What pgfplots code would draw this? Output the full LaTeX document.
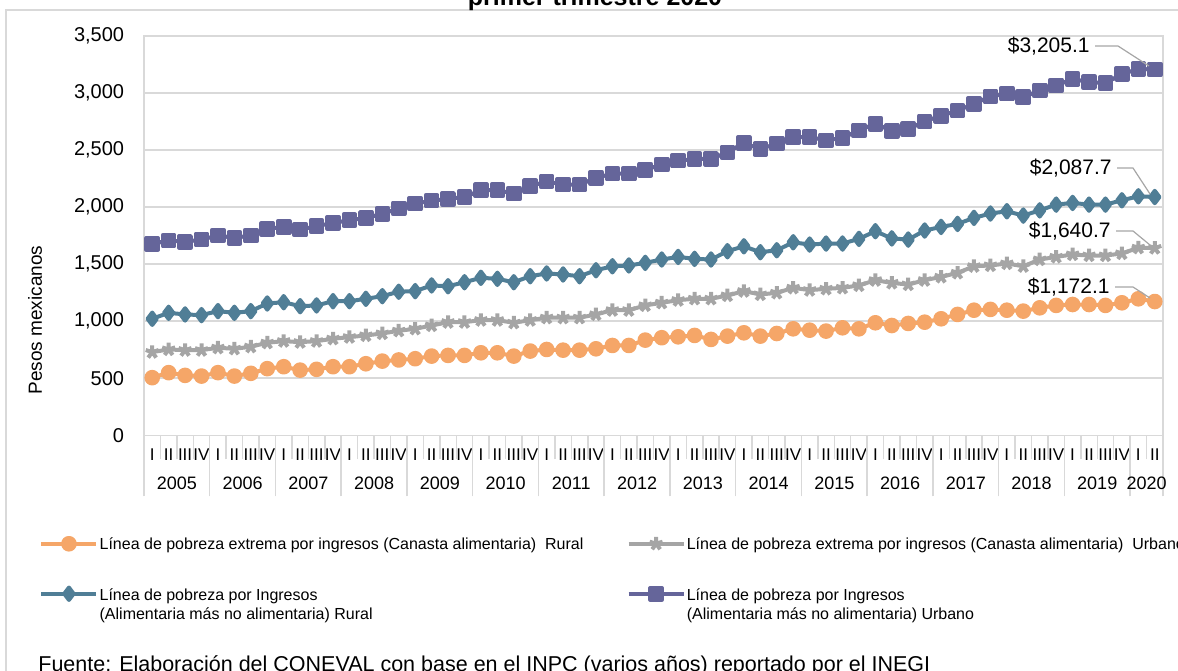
\documentclass[border=0pt]{standalone}
\usepackage{pgfplots}
\pgfplotsset{compat=1.18}
\usepackage{pgfplotstable}
\usepackage{fontspec}
\setmainfont{Liberation Sans}

\definecolor{cRurExt}{RGB}{245,166,104}
\definecolor{cUrbExt}{RGB}{165,165,165}
\definecolor{cRur}{RGB}{80,126,150}
\definecolor{cUrb}{RGB}{101,101,154}
\definecolor{gridgray}{RGB}{217,217,217}
\definecolor{leader}{RGB}{166,166,166}

% lineas de pobreza por ingresos, trimestral 2005-I a 2020-II (pesos)
\pgfplotstableread{
rurext urbext rur urb
505 729 1021 1677
549 752 1073 1706
525 746 1059 1695
519 746 1053 1715
549 767 1088 1750
519 758 1073 1730
543 776 1088 1750
584 811 1155 1808
601 825 1166 1826
571 816 1131 1802
578 825 1138 1832
601 846 1175 1861
601 860 1175 1884
627 875 1196 1905
650 892 1219 1940
660 916 1258 1988
671 933 1263 2030
694 962 1313 2056
700 991 1306 2071
700 991 1341 2088
723 1009 1380 2147
723 1009 1371 2147
694 986 1341 2118
738 1009 1394 2182
752 1030 1418 2225
746 1030 1409 2196
746 1030 1394 2196
758 1059 1446 2255
787 1096 1481 2292
787 1096 1488 2292
834 1138 1511 2327
855 1161 1540 2371
863 1184 1563 2406
875 1196 1546 2421
840 1196 1540 2421
869 1225 1613 2479
898 1263 1656 2561
869 1234 1604 2508
892 1248 1621 2555
933 1292 1691 2613
921 1272 1671 2613
913 1283 1680 2584
942 1292 1680 2605
933 1313 1721 2671
986 1359 1788 2730
962 1335 1725 2667
980 1321 1715 2683
991 1359 1794 2750
1021 1388 1826 2800
1059 1423 1852 2844
1096 1481 1905 2905
1103 1488 1943 2969
1096 1505 1963 2993
1088 1481 1925 2963
1117 1540 1971 3021
1138 1563 2021 3065
1146 1584 2036 3121
1146 1575 2021 3095
1138 1575 2021 3086
1161 1593 2059 3165
1196 1643 2094 3209
1172.1 1640.7 2087.7 3205.1
}\lineas

\begin{document}
\begin{tikzpicture}
% 1 px of the reference = 0.5pt
\useasboundingbox (0,0) rectangle (589pt,-335pt);
\clip (0,0) rectangle (589pt,-335pt);
\begin{scope}[x=0.5pt,y=-0.5pt]
  \draw[gridgray, line width=0.75pt] (6,700) -- (6,10) -- (1200,10);
  \node[font=\bfseries\fontsize{12.5}{14}\selectfont, anchor=base] at (595,5) {primer trimestre 2020};
  \node[rotate=90, font=\fontsize{9.5}{11}\selectfont] at (35,320) {Pesos mexicanos};
  \node[anchor=base west, inner sep=0pt, font=\fontsize{10.75}{12}\selectfont] at (38,671)
    {Fuente: Elaboración del CONEVAL con base en el INPC (varios años) reportado por el INEGI};
\end{scope}

\begin{axis}[
  at={(72pt,-217.65pt)}, anchor=south west,
  scale only axis, width=509.5pt, height=199.75pt,
  xmin=0, xmax=62, ymin=0, ymax=3500,
  clip mode=individual,
  axis line style={draw=gridgray, line width=0.75pt},
  ytick={0,500,...,3500},
  ymajorgrids, grid style={draw=gridgray, line width=0.75pt},
  major tick length=0pt,
  tick style={draw=gridgray, line width=0.75pt},
  tick align=outside,
  xtick pos=bottom, ytick pos=left,
  yticklabel style={font=\fontsize{10}{11}\selectfont, inner sep=0pt, xshift=-9.75pt},
  /pgf/number format/1000 sep={,},
  /pgf/number format/assume math mode=true,
  xtick={0.5,1.5,...,61.5},
  xticklabels={I,II,III,IV,I,II,III,IV,I,II,III,IV,I,II,III,IV,I,II,III,IV,
    I,II,III,IV,I,II,III,IV,I,II,III,IV,I,II,III,IV,I,II,III,IV,
    I,II,III,IV,I,II,III,IV,I,II,III,IV,I,II,III,IV,I,II,III,IV,I,II},
  xticklabel style={font=\fontsize{8.5}{10}\selectfont, inner sep=0pt, anchor=north, yshift=-6.3pt},
  minor xtick={0,1,...,62},
  minor tick length=12pt,
  extra x ticks={0,4,8,12,16,20,24,28,32,36,40,44,48,52,56,60,62},
  extra x tick labels={},
  extra x tick style={major tick length=30.5pt},
  legend columns=2,
  legend cell align=left,
  legend style={at={(-0.103,-0.252)}, anchor=north west, draw=none, fill=none,
    inner sep=0pt, row sep=17pt,
    font=\fontsize{8}{9.2}\selectfont,
    cells={anchor=base west, align=left},
    nodes={inner sep=0.6pt},
    /tikz/every even column/.append style={column sep=21pt}},
  legend image code/.code={
    \draw[mark repeat=2,mark phase=2,#1] plot coordinates {(0pt,2.8pt)(13.75pt,2.8pt)(27.5pt,2.8pt)};},
  every axis plot/.append style={line width=2pt, line join=round},
]
\addplot[cRurExt, mark=*, mark size=2.9pt, mark options={solid}]
  table[x expr=\coordindex+0.5, y=rurext]{\lineas};
\addlegendentry{Línea de pobreza extrema por ingresos (Canasta alimentaria)\ \ Rural}
\addplot[cUrbExt, mark=star, mark size=3.4pt, mark options={solid, line width=2pt}]
  table[x expr=\coordindex+0.5, y=urbext]{\lineas};
\addlegendentry{Línea de pobreza extrema por ingresos (Canasta alimentaria)\ \ Urbano}
\addplot[cRur, mark=diamond*, mark size=3.1pt, mark options={solid},
  legend image post style={yshift=10pt}]
  table[x expr=\coordindex+0.5, y=rur]{\lineas};
\addlegendentry{Línea de pobreza por Ingresos\\(Alimentaria más no alimentaria) Rural}
\addplot[cUrb, mark=square*, mark size=2.9pt, mark options={solid},
  legend image post style={yshift=10pt}]
  table[x expr=\coordindex+0.5, y=urb]{\lineas};
\addlegendentry{Línea de pobreza por Ingresos\\(Alimentaria más no alimentaria) Urbano}

\pgfplotsinvokeforeach{0,...,14}{
  \node[font=\fontsize{9}{11}\selectfont, anchor=base, yshift=-26.9pt] at (axis cs:{4*#1+2},0) {\the\numexpr2005+#1\relax};
}
\node[font=\fontsize{9}{11}\selectfont, anchor=base, yshift=-26.9pt] at (axis cs:61,0) {2020};
\end{axis}

\begin{scope}[x=0.5pt,y=-0.5pt, every node/.style={font=\fontsize{10.5}{12}\selectfont, anchor=east, inner sep=0pt}]
  \node at (1090,46) {\$3,205.1};
  \draw[leader, line width=0.6pt] (1095,46) -- (1118,46) -- (1149,66);
  \node at (1112,168) {\$2,087.7};
  \draw[leader, line width=0.6pt] (1117,168) -- (1133,168) -- (1150,194);
  \node at (1111,231) {\$1,640.7};
  \draw[leader, line width=0.6pt] (1116,231) -- (1133,231) -- (1150,245);
  \node at (1110,287) {\$1,172.1};
  \draw[leader, line width=0.6pt] (1115,287) -- (1133,287) -- (1150,298);
\end{scope}
\end{tikzpicture}
\end{document}
